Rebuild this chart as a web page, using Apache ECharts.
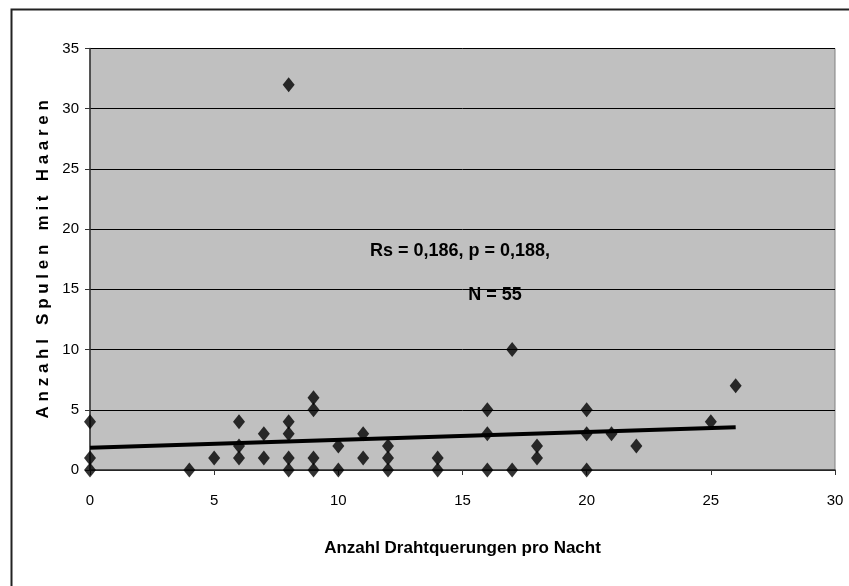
<!DOCTYPE html>
<html><head><meta charset="utf-8">
<style>html,body{margin:0;padding:0;background:#fff}#c{width:849px;height:586px}</style>
<script src="https://cdn.jsdelivr.net/npm/echarts@6/dist/echarts.min.js"></script>
</head><body><div id="c"></div>
<script>
// Scatter data: [Drahtquerungen pro Nacht, Spulen mit Haaren]
const crossings = [0,0,0, 4, 5, 6,6,6, 7,7, 8,8,8,8,8, 9,9,9,9, 10,10, 11,11, 12,12,12, 14,14, 16,16,16, 17,17, 18,18, 20,20,20, 21, 22, 25, 26];
const spools    = [4,1,0, 0, 1, 4,2,1, 3,1, 32,4,3,1,0, 6,5,1,0, 2,0, 3,1, 2,1,0, 1,0, 5,3,0, 10,0, 2,1, 5,3,0, 3, 2, 4, 7];
// Trend line endpoints
const trendX = [0, 26];
const trendY = [1.85, 3.55];
const xTicks = [0,5,10,15,20,25,30];
const yTicks = [0,5,10,15,20,25,30,35];
const annotation = ["Rs = 0,186, p = 0,188,", "N = 55"];

const pts = crossings.map((x,i)=>[x, spools[i]]);
const trend = trendX.map((x,i)=>[x, trendY[i]]);
const font = "'Liberation Sans',Arial,sans-serif";

const chart = echarts.init(document.getElementById('c'));
chart.setOption({
  animation:false,
  backgroundColor:'#fff',
  grid:{left:90, top:48.5, right:14, bottom:116, show:true, backgroundColor:'#C0C0C0', borderColor:'#808080', borderWidth:1},
  xAxis:{type:'value', min:0, max:30, interval:5,
    axisLine:{show:true, onZero:false, lineStyle:{color:'#333', width:1.5}},
    axisTick:{show:true, length:5, lineStyle:{color:'#333'}},
    axisLabel:{color:'#000', fontSize:15, fontFamily:font, margin:23},
    splitLine:{show:false},
    name:'Anzahl Drahtquerungen pro Nacht', nameLocation:'middle', nameGap:70,
    nameTextStyle:{color:'#000', fontSize:17, fontWeight:'bold', fontFamily:font}
  },
  yAxis:{type:'value', min:0, max:35, interval:5,
    axisLine:{show:true, onZero:false, lineStyle:{color:'#333', width:1.5}},
    axisTick:{show:true, length:5, lineStyle:{color:'#333'}},
    axisLabel:{color:'#000', fontSize:15, fontFamily:font, margin:11},
    splitLine:{show:true, lineStyle:{color:'#000', width:1}},
    name:'A n z a h l   S p u l e n   m i t   H a a r e n', nameLocation:'middle', nameGap:37,
    nameTextStyle:{color:'#000', fontSize:17, fontWeight:'bold', fontFamily:font}
  },
  series:[
    {type:'line', data:trend, showSymbol:false, symbol:'none', lineStyle:{color:'#000', width:4}, z:2},
    {type:'scatter', data:pts, symbol:'diamond', symbolSize:[12,15], itemStyle:{color:'#000'}, z:3}
  ],
  graphic:[
    {type:'rect', left:9, top:7, shape:{width:900, height:700}, style:{fill:'none', stroke:'#222', lineWidth:2}, silent:true, z:-1},
    {type:'text', x:460, y:251, style:{text:annotation[0], fill:'#000', font:"bold 18px 'Liberation Sans',Arial,sans-serif", textAlign:'center', textVerticalAlign:'middle'}},
    {type:'text', x:495, y:295, style:{text:annotation[1], fill:'#000', font:"bold 18px 'Liberation Sans',Arial,sans-serif", textAlign:'center', textVerticalAlign:'middle'}}
  ]
});
</script></body></html>
